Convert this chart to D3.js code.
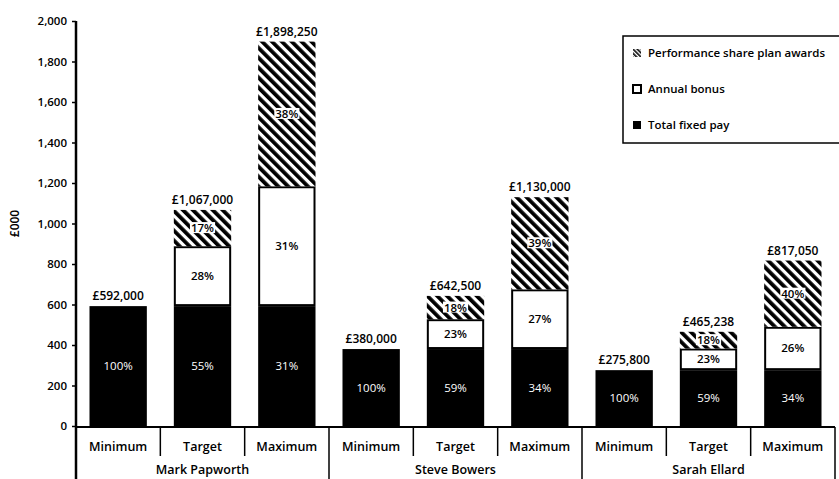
<!DOCTYPE html>
<html>
<head>
<meta charset="utf-8">
<script src="https://cdn.jsdelivr.net/npm/d3@7"></script>
<style>
  body { margin: 0; background: #fff; }
  text { font-family: "Open Sans", sans-serif; }
</style>
</head>
<body>
<div id="chart"></div>
<script>
// chart data (£000)
var people = ["Mark Papworth", "Steve Bowers", "Sarah Ellard"];
var scenarios = ["Minimum", "Target", "Maximum"];
var fixedPay = [592, 592, 592, 380, 380, 380, 275.8, 275.8, 275.8];
var annualBonus = [0, 296, 592, 0, 147.5, 295, 0, 107.1, 214.2];
var pspAwards = [0, 179, 714.25, 0, 115, 455, 0, 82.338, 327.05];
var fixedPct = ["100%", "55%", "31%", "100%", "59%", "34%", "100%", "59%", "34%"];
var bonusPct = ["", "28%", "31%", "", "23%", "27%", "", "23%", "26%"];
var pspPct = ["", "17%", "38%", "", "18%", "39%", "", "18%", "40%"];
var yTicks = [0, 200, 400, 600, 800, 1000, 1200, 1400, 1600, 1800, 2000];
var legendItems = ["Performance share plan awards", "Annual bonus", "Total fixed pay"];

var width = 839, height = 479;
var plotLeft = 76, plotRight = 835, plotTop = 21, plotBase = 426;

var rows = [];
people.forEach(function(p, i) {
    scenarios.forEach(function(s, j) {
        var k = i * 3 + j;
        rows.push({key: p + "|" + s, person: p, scenario: s,
            fixed: fixedPay[k], bonus: annualBonus[k], psp: pspAwards[k],
            fixedPct: fixedPct[k], bonusPct: bonusPct[k], pspPct: pspPct[k]});
    });
});

var svg = d3.select("#chart").append("svg").attr("width", width).attr("height", height);

// hatch pattern for PSP
var defs = svg.append("defs");
var pat = defs.append("pattern")
    .attr("id", "hatch")
    .attr("patternUnits", "userSpaceOnUse")
    .attr("width", 7).attr("height", 7)
    .attr("patternTransform", "rotate(-45)");
pat.append("rect").attr("width", 7).attr("height", 7).attr("fill", "#fff");
pat.append("rect").attr("width", 3.8).attr("height", 7).attr("fill", "#000");

var small = defs.append("pattern")
    .attr("id", "hatchSmall")
    .attr("patternUnits", "userSpaceOnUse")
    .attr("width", 3).attr("height", 3)
    .attr("patternTransform", "rotate(-45)");
small.append("rect").attr("width", 3).attr("height", 3).attr("fill", "#fff");
small.append("rect").attr("width", 1.6).attr("height", 3).attr("fill", "#000");

var x = d3.scaleBand()
    .domain(rows.map(function(d) { return d.key; }))
    .range([plotLeft, plotRight])
    .paddingInner(0.32)
    .paddingOuter(0.16);

var xGroup = d3.scaleBand().domain(people).range([plotLeft, plotRight]);
var xSub = d3.scaleBand().domain(rows.map(function(d) { return d.key; })).range([plotLeft, plotRight]);

var y = d3.scaleLinear().domain([0, 2000]).range([plotBase, plotTop]);

var stack = d3.stack().keys(["fixed", "bonus", "psp"]);
var series = stack(rows);

var fills = {fixed: "#000", bonus: "#fff", psp: "url(#hatch)"};

var layer = svg.selectAll(".layer")
    .data(series)
    .enter().append("g")
    .attr("class", "layer");

layer.selectAll("rect")
    .data(function(s) { return s.map(function(d) { d.layer = s.key; return d; }); })
    .enter().append("rect")
    .filter(function(d) { return d[1] - d[0] > 0; })
    .attr("x", function(d) { return x(d.data.key) + (d.layer == "bonus" ? 1 : 0); })
    .attr("width", function(d) { return x.bandwidth() - (d.layer == "bonus" ? 2 : 0); })
    .attr("y", function(d) { return y(d[1]) + (d.layer == "bonus" ? 1 : 0); })
    .attr("height", function(d) { return y(d[0]) - y(d[1]) - (d.layer == "bonus" ? 2 : 0); })
    .attr("fill", function(d) { return fills[d.layer]; })
    .attr("stroke", function(d) { return d.layer == "bonus" ? "#000" : "none"; })
    .attr("stroke-width", 2);

// percentage labels
var pctKey = {fixed: "fixedPct", bonus: "bonusPct", psp: "pspPct"};
layer.each(function(s) {
    var g = d3.select(this);
    s.forEach(function(d) {
        var txt = d.data[pctKey[s.key]];
        if (!txt || d[1] - d[0] <= 0) return;
        var cx = x(d.data.key) + x.bandwidth() / 2;
        var cy = (y(d[0]) + y(d[1])) / 2;
        var t = g.append("text")
            .attr("x", cx).attr("y", cy).attr("dy", "0.35em")
            .attr("text-anchor", "middle")
            .style("font-size", "11.5px")
            .text(txt);
        if (s.key == "fixed") {
            t.attr("fill", "#fff").style("font-weight", "400");
        } else {
            t.attr("fill", "#000").style("font-weight", "600");
        }
        if (s.key == "psp") {
            var bb = t.node().getBBox();
            g.insert("rect", function() { return t.node(); })
                .attr("x", bb.x - 1).attr("y", bb.y + 2)
                .attr("width", bb.width + 2).attr("height", bb.height - 4)
                .attr("fill", "#fff");
        }
    });
});

// totals above the bars
var fmt = d3.format(",");
svg.selectAll(".total")
    .data(rows)
    .enter().append("text")
    .attr("class", "total")
    .attr("x", function(d) { return x(d.key) + x.bandwidth() / 2; })
    .attr("y", function(d) { return y(d.fixed + d.bonus + d.psp) - 6; })
    .attr("text-anchor", "middle")
    .style("font-size", "12px")
    .style("font-weight", "600")
    .text(function(d) { return "£" + fmt(Math.round((d.fixed + d.bonus + d.psp) * 1000)); });

// y axis
var yAxis = svg.append("g")
    .attr("transform", "translate(" + plotLeft + ",0)")
    .call(d3.axisLeft(y).tickValues(yTicks).tickFormat(fmt).tickSize(4).tickPadding(5));
yAxis.select(".domain").remove();
yAxis.selectAll(".tick line").attr("stroke-width", 1.5);
yAxis.selectAll(".tick text")
    .style("font-size", "11.5px")
    .style("font-weight", "600")
    .style("font-family", "'Open Sans', sans-serif")
    .attr("fill", "#000");

svg.append("line")
    .attr("x1", plotLeft).attr("x2", plotLeft)
    .attr("y1", y(2000)).attr("y2", height)
    .attr("stroke", "#000").attr("stroke-width", 2.5);

svg.append("text")
    .attr("transform", "translate(15," + y(1000) + ") rotate(-90)")
    .attr("text-anchor", "middle")
    .attr("dy", "0.35em")
    .style("font-size", "12px")
    .style("font-weight", "600")
    .text("£000");

// category axis
svg.append("line")
    .attr("x1", plotLeft).attr("x2", plotRight)
    .attr("y1", plotBase + 1).attr("y2", plotBase + 1)
    .attr("stroke", "#000").attr("stroke-width", 2);

svg.selectAll(".subsep")
    .data(rows.slice(1))
    .enter().append("line")
    .attr("x1", function(d) { return xSub(d.key); })
    .attr("x2", function(d) { return xSub(d.key); })
    .attr("y1", plotBase + 1)
    .attr("y2", function(d) { return d.scenario == "Minimum" ? height : plotBase + 30; })
    .attr("stroke", "#000").attr("stroke-width", 1.5);

svg.append("line")
    .attr("x1", plotRight).attr("x2", plotRight)
    .attr("y1", plotBase + 1).attr("y2", height)
    .attr("stroke", "#000").attr("stroke-width", 1.5);

svg.selectAll(".sublabel")
    .data(rows)
    .enter().append("text")
    .attr("x", function(d) { return xSub(d.key) + xSub.bandwidth() / 2; })
    .attr("y", plotBase + 25)
    .attr("text-anchor", "middle")
    .style("font-size", "12.5px")
    .style("font-weight", "600")
    .text(function(d) { return d.scenario; });

svg.selectAll(".grouplabel")
    .data(people)
    .enter().append("text")
    .attr("x", function(d) { return xGroup(d) + xGroup.bandwidth() / 2; })
    .attr("y", plotBase + 48)
    .attr("text-anchor", "middle")
    .style("font-size", "12.5px")
    .style("font-weight", "600")
    .text(function(d) { return d; });

// legend
var legend = svg.append("g").attr("transform", "translate(623,36)");
legend.append("rect")
    .attr("width", 240).attr("height", 107)
    .attr("fill", "#fff").attr("stroke", "#000").attr("stroke-width", 1.5);
var legFill = ["url(#hatchSmall)", "#fff", "#000"];
legendItems.forEach(function(name, i) {
    var ly = 17 + i * 36;
    legend.append("rect")
        .attr("x", 10).attr("y", ly - 4).attr("width", 8).attr("height", 8)
        .attr("fill", legFill[i])
        .attr("stroke", i == 1 ? "#000" : "none").attr("stroke-width", 2);
    legend.append("text")
        .attr("x", 25).attr("y", ly).attr("dy", "0.35em")
        .style("font-size", "11.5px")
        .style("font-weight", "600")
        .text(name);
});
</script>
</body>
</html>
